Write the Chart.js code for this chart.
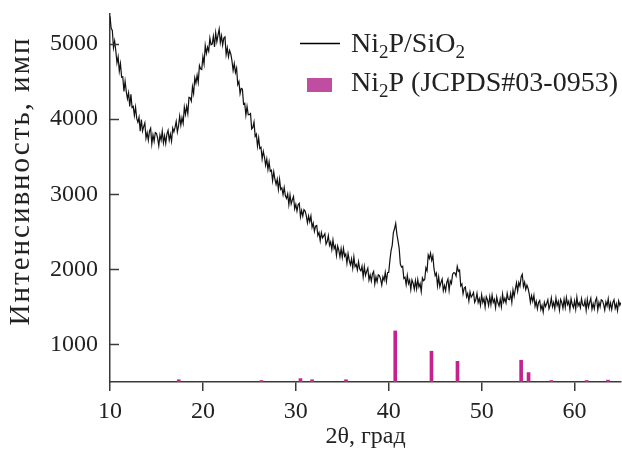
<!DOCTYPE html>
<html>
<head>
<meta charset="utf-8">
<script src="https://cdn.jsdelivr.net/npm/chart.js@4"></script>
<style>
  html, body { margin: 0; padding: 0; background: #fff; }
  #wrap { width: 622px; height: 459px; }
</style>
</head>
<body>
<div id="wrap"><canvas id="xrd"></canvas></div>
<script>
// 2theta start and step of the measured pattern
const twoThetaStart = 10;
const twoThetaStep = 0.125;

// Ni2P/SiO2 intensity (counts), 8 points per degree
const intensity = [
  5370, 5210, 5180, 4950, 5040, 4910, 4750, 4830,  // 10
  4640, 4740, 4560, 4565, 4370, 4505, 4370, 4270,  // 11
  4350, 4170, 4330, 4155, 4170, 4050, 4160, 4010,  // 12
  3960, 4025, 3840, 3995, 3840, 3900, 3950, 3745,  // 13
  3820, 3720, 3840, 3880, 3670, 3790, 3705, 3822,  // 14
  3810, 3747, 3645, 3787, 3720, 3842, 3685, 3780,  // 15
  3675, 3802, 3850, 3720, 3800, 3705, 3880, 3830,  // 16
  3890, 3970, 3830, 3910, 4040, 3920, 4020, 3945,  // 17
  4160, 4065, 4170, 4075, 4290, 4285, 4240, 4430,  // 18
  4340, 4550, 4480, 4585, 4490, 4715, 4670, 4660,  // 19
  4830, 4735, 4980, 4875, 4960, 4905, 5080, 4990,  // 20
  5000, 5105, 4960, 5150, 5030, 5120, 5200, 5020,  // 21
  5110, 4985, 5080, 5095, 4860, 4950, 4830, 4915,  // 22
  4870, 4780, 4650, 4740, 4620, 4680, 4460, 4500,  // 23
  4340, 4410, 4400, 4200, 4210, 4055, 4170, 4060,  // 24
  4060, 4075, 3870, 3890, 3960, 3770, 3800, 3640,  // 25
  3750, 3610, 3625, 3470, 3570, 3495, 3385, 3470,  // 26
  3330, 3430, 3305, 3320, 3180, 3300, 3200, 3130,  // 27
  3200, 3065, 3200, 3065, 3085, 2995, 3090, 2980,  // 28
  2945, 3005, 2860, 2990, 2870, 2925, 2970, 2805,  // 29
  2865, 2775, 2860, 2880, 2700, 2785, 2710, 2795,  // 30
  2775, 2715, 2620, 2710, 2635, 2710, 2560, 2615,  // 31
  2505, 2575, 2585, 2450, 2490, 2380, 2490, 2420,  // 32
  2445, 2475, 2335, 2370, 2450, 2320, 2365, 2265,  // 33
  2390, 2275, 2315, 2185, 2310, 2255, 2165, 2275,  // 34
  2160, 2280, 2175, 2205, 2080, 2210, 2120, 2060,  // 35
  2140, 2018, 2165, 2037, 2065, 1990, 2100, 2003,  // 36
  1980, 2042, 1900, 2035, 1920, 1973, 2015, 1857,  // 37
  1925, 1845, 1940, 1972, 1805, 1900, 1835, 1927,  // 38
  1915, 1870, 1790, 1900, 1855, 1960, 1840, 1955,  // 39
  1960, 2120, 2250, 2320, 2490, 2540, 2610, 2470,  // 40
  2380, 2280, 2070, 2030, 2040, 1880, 1895, 1795,  // 41
  1920, 1810, 1855, 1730, 1860, 1815, 1735, 1850,  // 42
  1740, 1865, 1765, 1810, 1705, 1885, 1850, 1865,  // 43
  2020, 1980, 2190, 2145, 2215, 2120, 2180, 2005,  // 44
  1915, 1950, 1780, 1900, 1770, 1825, 1870, 1715,  // 45
  1785, 1717, 1825, 1870, 1720, 1845, 1810, 1935,  // 46
  1955, 1950, 1910, 2040, 1975, 1990, 1780, 1805,  // 47
  1675, 1750, 1765, 1635, 1680, 1580, 1700, 1630,  // 48
  1655, 1692, 1560, 1597, 1680, 1557, 1610, 1522,  // 49
  1660, 1560, 1613, 1497, 1635, 1595, 1518, 1637,  // 50
  1530, 1657, 1560, 1600, 1490, 1632, 1555, 1510,  // 51
  1605, 1502, 1670, 1565, 1615, 1555, 1680, 1600,  // 52
  1595, 1680, 1560, 1725, 1640, 1735, 1820, 1710,  // 53
  1825, 1775, 1900, 1935, 1770, 1830, 1730, 1790,  // 54
  1745, 1670, 1560, 1650, 1575, 1655, 1510, 1575,  // 55
  1475, 1560, 1585, 1465, 1520, 1430, 1560, 1505,  // 56
  1545, 1595, 1475, 1525, 1620, 1502, 1560, 1477,  // 57
  1618, 1518, 1573, 1458, 1598, 1558, 1483, 1603,  // 58
  1495, 1625, 1530, 1575, 1465, 1610, 1535, 1490,  // 59
  1580, 1470, 1630, 1515, 1555, 1490, 1610, 1525,  // 60
  1510, 1585, 1455, 1600, 1495, 1560, 1615, 1470,  // 61
  1545, 1475, 1580, 1620, 1460, 1560, 1500, 1595,  // 62
  1583, 1538, 1458, 1568, 1513, 1608, 1478, 1553,  // 63
  1465, 1560, 1595, 1480, 1540, 1450, 1580, 1520,  // 64
  1560                                             // 65
];

// Ni2P reference lines (JCPDS#03-0953): positions and drawn heights
const refPositions = [17.4, 26.3, 30.5, 31.75, 35.4, 40.7, 44.6, 47.4, 54.25, 55.05, 57.5, 61.3, 63.6];
const refHeights   = [530, 520, 545, 530, 530, 1180, 910, 775, 790, 625, 520, 520, 525];

const xTicks = [10, 20, 30, 40, 50, 60];
const yTicks = [1000, 2000, 3000, 4000, 5000];

const seriesLabels = ["Ni2P/SiO2", "Ni2P (JCPDS#03-0953)"];

const FONT = "'Liberation Serif', 'Times New Roman', serif";
const AXIS_COLOR = "#3a3a3a";
const BAR_COLOR = "#c4238f";
const LEGEND_BOX = "#bf4ea0";

const linePoints = intensity.map((v, i) => ({ x: twoThetaStart + i * twoThetaStep, y: v }));
const barPoints = refPositions.map((p, i) => ({ x: p, y: refHeights[i] }));

// text with subscript digits after a letter ("Ni2P" -> Ni₂P)
function drawChem(ctx, text, x, y, size) {
  const parts = text.split(/(?<=[A-Za-z])(\d)(?=[A-Z\/ ]|$)/);
  let cx = x;
  parts.forEach((p, i) => {
    if (!p) return;
    const sub = i % 2 === 1;
    ctx.font = (sub ? Math.round(size * 0.68) : size) + "px " + FONT;
    ctx.fillText(p, cx, sub ? y + 6 : y);
    cx += ctx.measureText(p).width;
  });
}

const extras = {
  id: "extras",
  afterDraw(chart) {
    const { ctx, chartArea, scales } = chart;
    ctx.save();
    // inward y ticks
    ctx.strokeStyle = AXIS_COLOR;
    ctx.lineWidth = 1.5;
    yTicks.forEach(v => {
      const py = Math.round(scales.y.getPixelForValue(v)) + 0.5;
      ctx.beginPath();
      ctx.moveTo(chartArea.left, py);
      ctx.lineTo(chartArea.left + 9, py);
      ctx.stroke();
    });
    // y title
    ctx.fillStyle = "#222";
    ctx.textAlign = "center";
    ctx.textBaseline = "middle";
    ctx.font = "29px " + FONT;
    ctx.letterSpacing = "2px";
    ctx.translate(21, 181);
    ctx.rotate(-Math.PI / 2);
    ctx.fillText("Интенсивность, имп", 0, 0);
    ctx.restore();

    // legend
    ctx.save();
    ctx.fillStyle = "#222";
    ctx.textBaseline = "alphabetic";
    ctx.textAlign = "left";
    ctx.strokeStyle = "#000";
    ctx.lineWidth = 1.6;
    ctx.beginPath();
    ctx.moveTo(300, 43.5);
    ctx.lineTo(340, 43.5);
    ctx.stroke();
    drawChem(ctx, seriesLabels[0], 351, 52, 28);
    ctx.fillStyle = LEGEND_BOX;
    ctx.fillRect(307, 78, 25, 14);
    ctx.fillStyle = "#222";
    drawChem(ctx, seriesLabels[1], 351, 91, 28);
    ctx.restore();
  }
};

new Chart(document.getElementById("xrd"), {
  data: {
    datasets: [
      {
        type: "line",
        label: seriesLabels[0],
        data: linePoints,
        borderColor: "#111",
        borderWidth: 1.2,
        pointRadius: 0,
        tension: 0,
        order: 1
      },
      {
        type: "bar",
        label: seriesLabels[1],
        data: barPoints,
        backgroundColor: BAR_COLOR,
        barThickness: 3,
        order: 2
      }
    ]
  },
  options: {
    responsive: true,
    maintainAspectRatio: false,
    animation: false,
    layout: { padding: { left: 0, top: 14, right: 1, bottom: 0 } },
    plugins: {
      legend: { display: false },
      tooltip: { enabled: false }
    },
    scales: {
      x: {
        type: "linear",
        min: 10,
        max: 65,
        offset: false,
        afterFit: s => { s.height = 77; s.paddingLeft = 0; s.paddingRight = 0; },
        afterBuildTicks: s => { s.ticks = xTicks.map(v => ({ value: v })); },
        grid: {
          display: true,
          offset: false,
          drawOnChartArea: false,
          drawTicks: true,
          tickLength: 9,
          color: AXIS_COLOR,
          lineWidth: 1.5
        },
        border: { display: true, color: AXIS_COLOR, width: 1.5 },
        ticks: {
          color: "#222",
          padding: 6,
          maxRotation: 0,
          font: { family: FONT, size: 24 }
        },
        title: {
          display: true,
          text: "2θ, град",
          color: "#222",
          font: { family: FONT, size: 24 },
          padding: { top: 0, bottom: 8 }
        }
      },
      y: {
        min: 500,
        max: 5400,
        afterFit: s => { s.width = 110; s.paddingTop = 0; s.paddingBottom = 0; },
        afterBuildTicks: s => { s.ticks = yTicks.map(v => ({ value: v })); },
        grid: { display: false, drawTicks: false },
        border: { display: true, color: AXIS_COLOR, width: 1.5 },
        ticks: {
          color: "#222",
          padding: 12,
          font: { family: FONT, size: 24 },
          callback: v => String(v)
        }
      }
    }
  },
  plugins: [extras]
});
</script>
</body>
</html>
